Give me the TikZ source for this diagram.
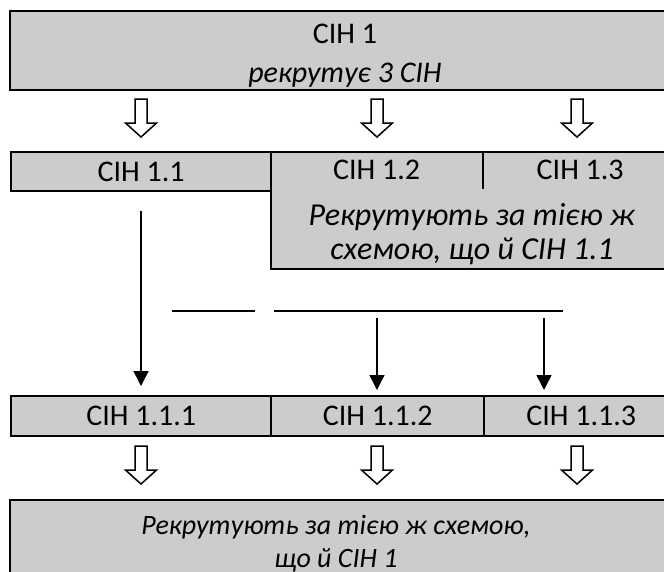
\documentclass[tikz,border=0pt]{standalone}
\usepackage{fontspec}
\setmainfont{Carlito}
\usetikzlibrary{arrows.meta}
\begin{document}
\begin{tikzpicture}[x=1pt,y=-1pt,
  box/.style={draw=black, line width=2.4pt, fill=black!20, inner sep=0pt, anchor=north west},
  cell/.style={inner sep=0pt, anchor=north west},
  txt/.style={font=\fontsize{30}{39}\selectfont, align=center, inner sep=0pt},
  bigtext/.style={font=\fontsize{32}{34}\selectfont, align=center, inner sep=0pt},
  bottext/.style={font=\fontsize{28}{33}\selectfont, align=center, inner sep=0pt},
  plainline/.style={line width=1.5pt},
  arr/.style={line width=1.5pt, -{Triangle[length=15pt,width=15pt]}},
  hollowarrow/.pic={\draw[line width=1.5pt, fill=white, line join=miter]
    (-6,0) -- (6,0) -- (6,24) -- (15.5,24) -- (0,38) -- (-15.5,24) -- (-6,24) -- cycle;}]
\useasboundingbox (0,0) rectangle (664,571);
% top box
\node[box, minimum width=672pt, minimum height=79pt] (top) at (9,10) {};
\node[txt] (toptxt) at (345,56) {СІН 1\\\textit{рекрутує 3 СІН}};
% hollow arrows row 1
\pic at (141,99) {hollowarrow};
\pic at (377,99) {hollowarrow};
\pic at (577,99) {hollowarrow};
% row 2
\node[box, minimum width=260pt, minimum height=39pt] (c11) at (10,151) {};
\node[txt] at (c11.center) {СІН 1.1};
\node[box, minimum width=407pt, minimum height=117pt] (big) at (270,151) {};
\node[cell, minimum width=213pt, minimum height=38pt] (c12) at (270,151) {};
\node[cell, minimum width=194pt, minimum height=38pt] (c13) at (483,151) {};
\node[txt] at (c12.center) {СІН 1.2};
\node[txt] at (c13.center) {СІН 1.3};
\draw[line width=2pt] (c12.north east) -- (c12.south east);
\node[bigtext] (bigtxt) at (472,234) {\textit{Рекрутують за тією ж}\\\textit{схемою, що й СІН 1.1}};
% row 3
\node[box, minimum width=260pt, minimum height=40pt] (c111) at (10,395) {};
\node[box, minimum width=213pt, minimum height=40pt] (c112) at (270,395) {};
\node[box, minimum width=194pt, minimum height=40pt] (c113) at (483,395) {};
\node[txt] at (c111.center) {СІН 1.1.1};
\node[txt] at (c112.center) {СІН 1.1.2};
\node[txt] at (c113.center) {СІН 1.1.3};
% connectors
\draw[arr, shorten <=19pt, shorten >=9pt] (c11.south -| 141,0) -- (c111.north -| 141,0);
\coordinate (h1s) at (172,311);
\coordinate (h1e) at (255,311);
\coordinate (h2s) at (274,311);
\coordinate (h2e) at (563,311);
\draw[plainline] (h1s) -- (h1e);
\draw[plainline] (h2s) -- (h2e);
\coordinate (a2) at (377,318);
\coordinate (a3) at (544,318);
\draw[arr, shorten >=5pt] (a2) -- (a2 |- c112.north);
\draw[arr, shorten >=5pt] (a3) -- (a3 |- c113.north);
% hollow arrows row 3
\pic at (141,446) {hollowarrow};
\pic at (377,446) {hollowarrow};
\pic at (577,446) {hollowarrow};
% bottom box
\node[box, minimum width=658pt, minimum height=90pt] (bot) at (9,499) {};
\node[bottext] (bottxt) at (336,544) {\textit{Рекрутують за тією ж схемою,}\\\textit{що й СІН 1}};
\end{tikzpicture}
\end{document}
